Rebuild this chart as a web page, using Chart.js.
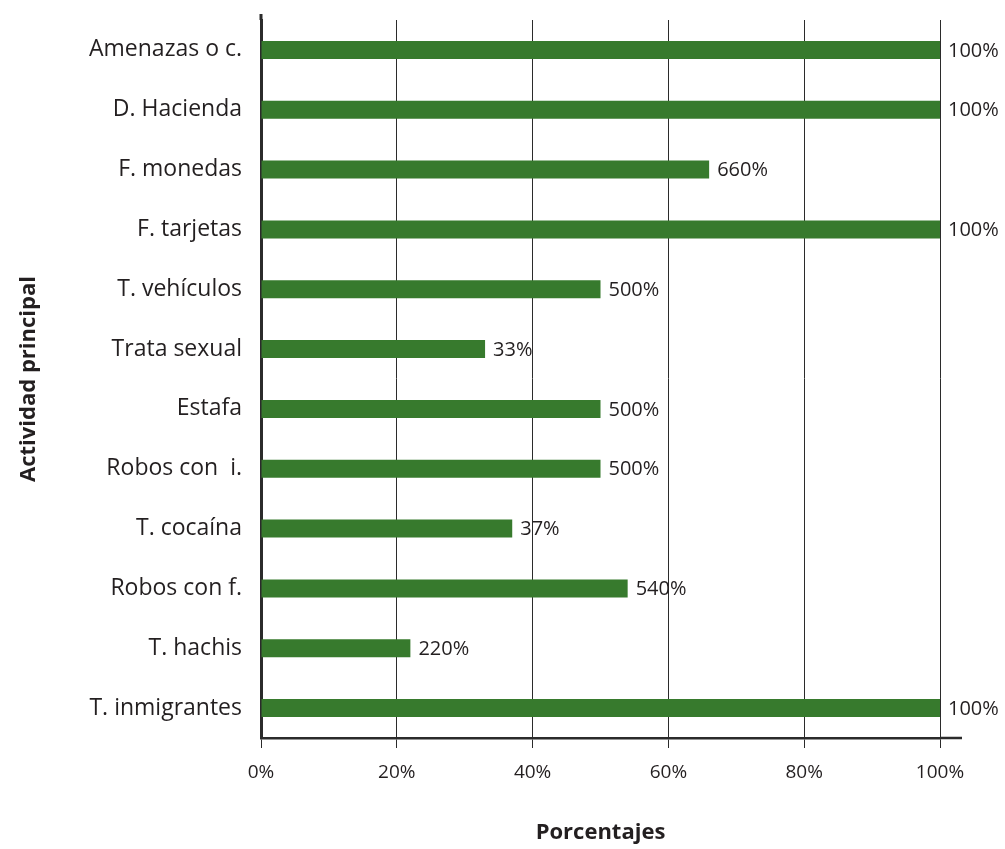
<!DOCTYPE html>
<html>
<head>
<meta charset="utf-8">
<script src="https://cdn.jsdelivr.net/npm/chart.js@4"></script>
<style>
  html, body { margin: 0; padding: 0; background: #fff; }
  #wrap { width: 1005px; height: 849px; }
</style>
</head>
<body>
<div id="wrap"><canvas id="chart" width="1005" height="849"></canvas></div>
<script>
// datos del gráfico
const categories = ['Amenazas o c.', 'D. Hacienda', 'F. monedas', 'F. tarjetas', 'T. vehículos', 'Trata sexual',
    'Estafa', 'Robos con  i.', 'T. cocaína', 'Robos con f.', 'T. hachis', 'T. inmigrantes'];
const values = [100, 100, 66, 100, 50, 33, 50, 50, 37, 54, 22, 100];
const valueLabels = ['100%', '100%', '660%', '100%', '500%', '33%', '500%', '500%', '37%', '540%', '220%', '100%'];
const xTicks = [0, 20, 40, 60, 80, 100];

const font = "'Open Sans', 'DejaVu Sans', sans-serif";
const textColor = '#231f20';
const lineColor = '#2b2b2b';

// etiquetas al final de cada barra
const barLabels = {
    id: 'barLabels',
    afterDatasetsDraw(chart) {
        const ctx = chart.ctx;
        const meta = chart.getDatasetMeta(0);
        ctx.save();
        ctx.font = '20px ' + font;
        ctx.fillStyle = textColor;
        ctx.textAlign = 'left';
        ctx.textBaseline = 'middle';
        meta.data.forEach((bar, i) => {
            ctx.fillText(valueLabels[i], bar.x + 8, bar.y + 1);
        });
        ctx.restore();
    }
};

// prolonga los ejes un poco
const axisExtend = {
    id: 'axisExtend',
    afterDraw(chart) {
        const ctx = chart.ctx;
        const area = chart.chartArea;
        ctx.save();
        ctx.strokeStyle = lineColor;
        ctx.lineWidth = 2.5;
        ctx.beginPath();
        ctx.moveTo(area.right, area.bottom);
        ctx.lineTo(area.right + 22, area.bottom);
        ctx.stroke();
        ctx.lineWidth = 3;
        ctx.beginPath();
        ctx.moveTo(area.left, area.top);
        ctx.lineTo(area.left, area.top - 6);
        ctx.stroke();
        ctx.restore();
    }
};

new Chart(document.getElementById('chart'), {
    type: 'bar',
    data: {
        labels: categories,
        datasets: [{
            data: values,
            backgroundColor: '#377a2d',
            borderWidth: 0,
            categoryPercentage: 1,
            barPercentage: 0.3
        }]
    },
    options: {
        indexAxis: 'y',
        responsive: false,
        animation: false,
        layout: { padding: { left: 0, right: 65, top: 20, bottom: 0 } },
        plugins: {
            legend: { display: false },
            tooltip: { enabled: false }
        },
        scales: {
            x: {
                min: 0,
                max: 100,
                afterBuildTicks: scale => { scale.ticks = xTicks.map(v => ({ value: v })); },
                afterFit: scale => {
                    scale.height = 111;
                    scale.paddingLeft = 0;
                    scale.paddingRight = 0;
                },
                ticks: {
                    callback: v => v + '%',
                    color: textColor,
                    font: { family: font, size: 19 },
                    padding: 13
                },
                grid: {
                    color: lineColor,
                    lineWidth: 1,
                    tickLength: 10,
                    tickColor: lineColor
                },
                border: { color: lineColor, width: 2.5 },
                title: {
                    display: true,
                    text: 'Porcentajes',
                    color: textColor,
                    font: { family: font, size: 22, weight: 'bold' },
                    padding: { top: 0, bottom: 3 }
                }
            },
            y: {
                afterFit: scale => {
                    scale.width = 261;
                    scale.paddingTop = 0;
                    scale.paddingBottom = 0;
                },
                ticks: {
                    color: textColor,
                    font: { family: font, size: 23 },
                    padding: 19
                },
                grid: { display: false, drawTicks: false },
                border: { color: lineColor, width: 3 },
                title: {
                    display: true,
                    text: 'Actividad principal',
                    color: textColor,
                    font: { family: font, size: 22, weight: 'bold' },
                    padding: { top: 16, bottom: 0 }
                }
            }
        }
    },
    plugins: [barLabels, axisExtend]
});
</script>
</body>
</html>
